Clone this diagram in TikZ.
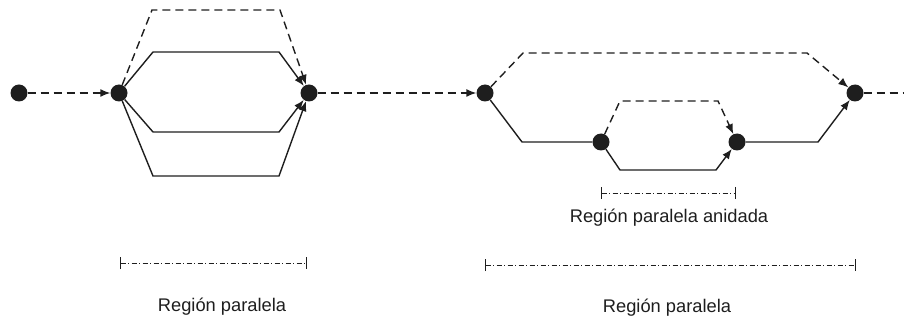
\documentclass[tikz,border=0pt]{standalone}
\usepackage{fontspec}
\setmainfont{Liberation Sans}
\usetikzlibrary{arrows.meta}
\definecolor{ink}{HTML}{1E1E1E}
\tikzset{
  dot/.style={circle,fill=ink,draw=none,inner sep=0pt,minimum size=17pt},
  flow/.style={draw=ink,line width=1.4pt},
  dsh/.style={flow,dash pattern=on 8pt off 5pt},
  arr/.style={-{Latex[length=10pt,width=8pt]}},
  span/.style={draw=ink,line width=0.8pt,dash pattern=on 5pt off 2.5pt on 1pt off 2.5pt,{Bar[width=12pt]}-{Bar[width=12pt]}},
  lbl/.style={font=\fontsize{18.3}{21}\selectfont,text=ink,anchor=base,inner sep=0pt}
}
\begin{document}
\begin{tikzpicture}[x=1pt,y=-1pt]
\useasboundingbox (0,0) rectangle (904,320);
% nodes
\node[dot] (A) at (19,93) {};
\node[dot] (B) at (119,93) {};
\node[dot] (C) at (309,93) {};
\node[dot] (D) at (485,93) {};
\node[dot] (E) at (601,142) {};
\node[dot] (F) at (737,142) {};
\node[dot] (G) at (855,93) {};
\coordinate (out) at (904,93);
% first region
\draw[dsh,arr] (A) -- (B);
\draw[dsh,arr] (B) -- (152,10) -- (280,10) -- (C);
\draw[flow,arr] (B) -- (153,52) -- (279,52) -- (C);
\draw[flow,arr] (B) -- (153,132) -- (279,132) -- (C);
\draw[flow,arr] (B) -- (153,176) -- (279,176) -- (C);
\draw[dsh,arr] (C) -- (D);
% second region
\draw[dsh,arr] (D) -- (523,53) -- (807,53) -- (G);
\draw[flow] (D) -- (522,142) -- (E);
\draw[dsh,arr] (E) -- (620,101) -- (718,101) -- (F);
\draw[flow,arr] (E) -- (620,170) -- (716,170) -- (F);
\draw[flow,arr] (F) -- (818,142) -- (G);
\draw[dsh] (G) -- (out);
% spans
\coordinate (s1a) at (120,263); \coordinate (s1b) at (307,263);
\coordinate (s2a) at (601,193); \coordinate (s2b) at (736,193);
\coordinate (s3a) at (485,265); \coordinate (s3b) at (856,265);
\draw[span] (s1a) -- (s1b);
\draw[span] (s2a) -- (s2b);
\draw[span] (s3a) -- (s3b);
\node[lbl] (t1) at (222,311) {Región paralela};
\node[lbl] (t2) at (669,223) {Región paralela anidada};
\node[lbl] (t3) at (667,312) {Región paralela};
\end{tikzpicture}
\end{document}
